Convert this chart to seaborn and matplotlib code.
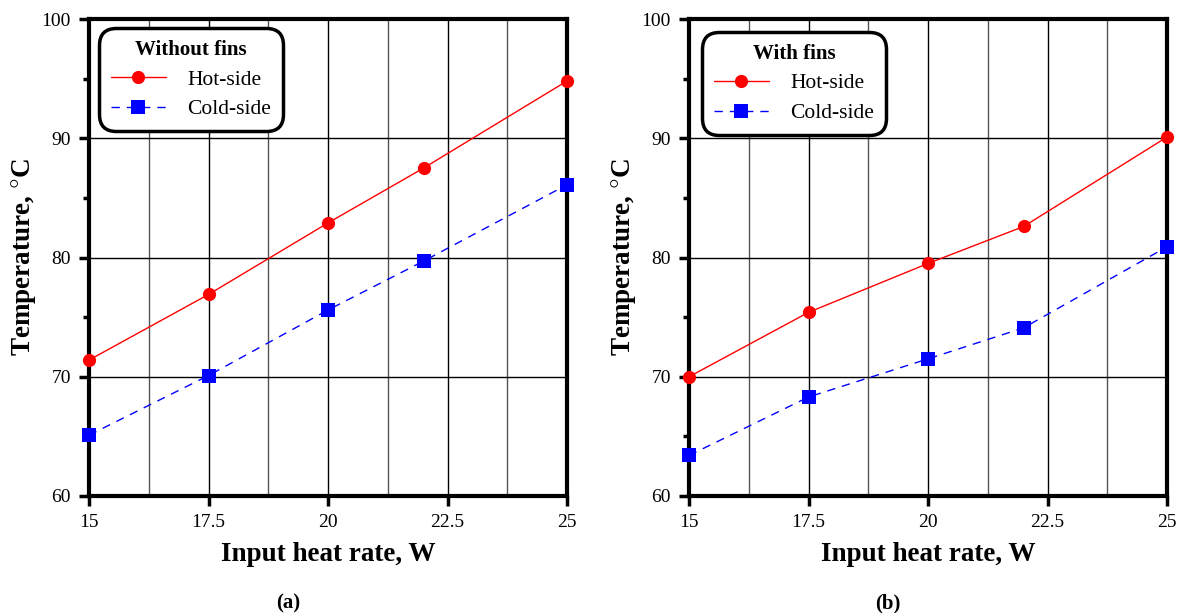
import numpy as np
import pandas as pd
import seaborn as sns
import matplotlib.pyplot as plt
from matplotlib.ticker import MultipleLocator

# data
heat_rate = [15, 17.5, 20, 22, 25]
hot_without = [71.4, 76.9, 82.9, 87.5, 94.8]
cold_without = [65.1, 70.1, 75.6, 79.7, 86.1]
hot_with = [70.0, 75.4, 79.5, 82.6, 90.1]
cold_with = [63.4, 68.3, 71.5, 74.1, 80.9]

panels = [("Without fins", hot_without, cold_without, "(a)"),
          ("With fins", hot_with, cold_with, "(b)")]

sns.set_theme(style="white")
plt.rcParams['font.family'] = ['Liberation Serif', 'DejaVu Serif']
plt.rcParams['mathtext.fontset'] = 'stix'
for k in ['text.color', 'axes.labelcolor', 'xtick.color', 'ytick.color']:
    plt.rcParams[k] = 'black'

fig = plt.figure(figsize=(11.84, 6.13), dpi=100)
W, H = 1184, 613
lefts = [89, 689]
leg_anchor = [(0.021, 0.981), (0.027, 0.973)]

for i, (title, hot, cold, tag) in enumerate(panels):
    ax = fig.add_axes([lefts[i] / W, (H - 496) / H, 478 / W, 477 / H])
    df = pd.DataFrame({
        "x": heat_rate * 2,
        "T": hot + cold,
        "side": ["Hot-side"] * len(hot) + ["Cold-side"] * len(cold),
    })
    sns.lineplot(data=df, x="x", y="T", hue="side", style="side",
                 palette={"Hot-side": "#ff0000", "Cold-side": "#0000ff"},
                 markers={"Hot-side": "o", "Cold-side": "s"},
                 dashes={"Hot-side": "", "Cold-side": (6, 5)},
                 markersize=9.5, markeredgewidth=0, linewidth=1,
                 ax=ax, zorder=5, clip_on=False)

    ax.set_xlim(15, 25)
    ax.set_ylim(60, 100)
    ax.xaxis.set_major_locator(MultipleLocator(2.5))
    ax.xaxis.set_minor_locator(MultipleLocator(1.25))
    ax.yaxis.set_major_locator(MultipleLocator(10))
    ax.yaxis.set_minor_locator(MultipleLocator(5))
    ax.xaxis.set_major_formatter(plt.FuncFormatter(lambda v, p: f"{v:g}"))

    ax.grid(which="major", axis="both", color="black", linewidth=1)
    ax.grid(which="minor", axis="x", color="#555555", linewidth=1)
    ax.set_axisbelow(True)

    for s in ax.spines.values():
        s.set_linewidth(3)
        s.set_color("black")
    ax.tick_params(which="major", direction="out", length=7, width=2.5,
                   labelsize=14, pad=6, bottom=True, left=True)
    ax.tick_params(which="minor", axis="y", direction="out", length=4, width=2.5, left=True)
    ax.tick_params(which="minor", axis="x", length=0)

    ax.set_xlabel("Input heat rate, W", fontsize=19.5, fontweight="bold", labelpad=8)
    ax.set_ylabel("Temperature, $\\degree$C", fontsize=19.5, fontweight="bold")
    ax.yaxis.set_label_coords(-65 / 478, 0.5)
    ax.yaxis.label.set_va("center")

    leg = ax.legend(title=title, loc="upper left", bbox_to_anchor=leg_anchor[i],
                    borderaxespad=0,
                    fontsize=15.5, title_fontproperties={"weight": "bold", "size": 15},
                    frameon=True, fancybox=True, handlelength=2.55, handletextpad=1.0,
                    borderpad=0.55, labelspacing=0.45, framealpha=1)
    leg.get_frame().set_edgecolor("black")
    leg.get_frame().set_linewidth(2.5)
    leg.get_frame().set_boxstyle("round", pad=0, rounding_size=0.8)
    leg.set_zorder(10)

    fig.text((lefts[i] + 199) / W, 1 - 603 / H, tag, ha="center", va="center",
             fontsize=15, fontweight="bold")

fig.savefig("out.png", dpi=100)
